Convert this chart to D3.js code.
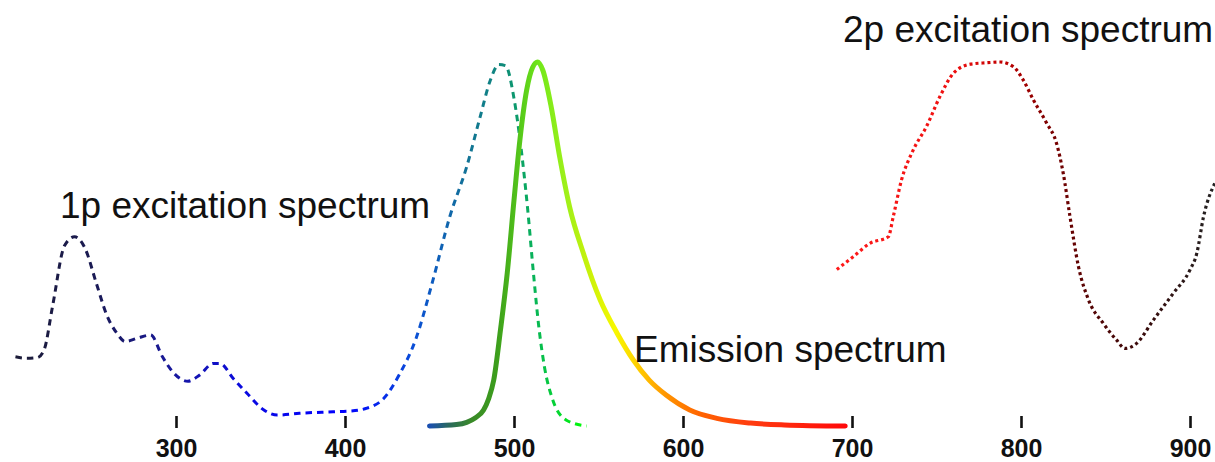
<!DOCTYPE html>
<html>
<head>
<meta charset="utf-8">
<script src="https://cdn.jsdelivr.net/npm/d3@7"></script>
<style>
  body { margin: 0; background: #fff; }
  text { font-family: "Liberation Sans", Arial, sans-serif; }
</style>
</head>
<body>
<div id="chart"></div>
<script>
// wavelengths (nm) and normalised intensity
var exc1P_nm = [205, 212, 218, 222, 227, 234, 240, 246, 253, 259, 265, 270, 277, 285, 292, 298, 307, 314, 322, 326, 334, 342, 352, 360, 373, 393, 403, 413, 423, 432, 442, 452, 462, 472, 480, 486, 491, 495, 500, 504, 508, 511.5, 514.5, 518, 523, 531, 543];
var exc1P_val = [0.19, 0.186, 0.188, 0.21, 0.33, 0.495, 0.52, 0.49, 0.39, 0.305, 0.255, 0.232, 0.241, 0.25, 0.19, 0.149, 0.123, 0.14, 0.172, 0.172, 0.13, 0.09, 0.044, 0.03, 0.035, 0.039, 0.041, 0.049, 0.076, 0.14, 0.24, 0.40, 0.575, 0.712, 0.85, 0.95, 0.993, 0.99, 0.9, 0.77, 0.6, 0.42, 0.28, 0.163, 0.071, 0.016, 0.0];

var emis_nm = [450, 466, 472, 477, 482, 485, 488, 492, 496, 500, 503.5, 507.5, 511, 514, 517, 522, 527, 533, 541, 551, 561, 570.5, 580, 590, 604, 620, 640, 660, 696];
var emis_val = [0, 0.004, 0.01, 0.022, 0.044, 0.075, 0.126, 0.264, 0.42, 0.62, 0.786, 0.923, 0.985, 1.0, 0.978, 0.877, 0.74, 0.6, 0.475, 0.346, 0.255, 0.182, 0.126, 0.085, 0.044, 0.021, 0.008, 0.003, 0.0];

var exc2P_nm = [691, 700.7, 710.7, 721.5, 724.4, 729.3, 736.2, 744, 752, 760, 770, 780, 787.6, 795.5, 801.4, 807.3, 815.2, 821, 825, 829, 834, 840, 848.7, 856.6, 861.5, 868.4, 878.3, 890, 900, 904, 908, 915];
var exc2P_val = [0.43, 0.465, 0.502, 0.52, 0.575, 0.676, 0.758, 0.822, 0.905, 0.969, 0.994, 0.998, 1.0, 0.987, 0.95, 0.896, 0.832, 0.777, 0.694, 0.575, 0.438, 0.346, 0.282, 0.236, 0.213, 0.227, 0.291, 0.364, 0.429, 0.474, 0.575, 0.67];

var tickValues = [300, 400, 500, 600, 700, 800, 900];
var labels = ["1p excitation spectrum", "Emission spectrum", "2p excitation spectrum"];

// colour stops along wavelength for each curve
var exc1P_colors = [[205, "#1c1c38"], [250, "#1a1a52"], [300, "#1818a0"], [340, "#0a0ae0"], [400, "#0000ff"], [440, "#0a4ed8"], [470, "#12709a"], [495, "#0f8c78"], [512, "#08b458"], [543, "#00ff00"]];
var emis_colors = [[450, "#1a4fb0"], [462, "#2a6a5a"], [475, "#3a8a28"], [490, "#3c9e1c"], [505, "#58cc1a"], [515, "#72e81a"], [530, "#9cf01a"], [545, "#caf20a"], [560, "#f8f800"], [575, "#ffc800"], [590, "#ff9400"], [610, "#ff6400"], [640, "#ff3c10"], [696, "#ff0a0a"]];
var exc2P_colors = [[690, "#ff1a1a"], [760, "#ee1010"], [790, "#c00000"], [815, "#800000"], [840, "#560404"], [870, "#3a0a0a"], [915, "#222222"]];

var width = 1215;
var height = 462;

var xScale = d3.scaleLinear().domain([300, 900]).range([176, 1190]);
var yScale = d3.scaleLinear().domain([0, 1]).range([426, 62]);

var svg = d3.select("#chart")
  .append("svg")
  .attr("width", width)
  .attr("height", height)
  .style("background", "#fff");

var defs = svg.append("defs");

function addGradient(id, stops) {
  var x1 = xScale(stops[0][0]);
  var x2 = xScale(stops[stops.length - 1][0]);
  var grad = defs.append("linearGradient")
    .attr("id", id)
    .attr("gradientUnits", "userSpaceOnUse")
    .attr("x1", x1).attr("y1", 0)
    .attr("x2", x2).attr("y2", 0);
  grad.selectAll("stop").data(stops).enter().append("stop")
    .attr("offset", function(d) { return (xScale(d[0]) - x1) / (x2 - x1); })
    .attr("stop-color", function(d) { return d[1]; });
}

addGradient("g1p", exc1P_colors);
addGradient("gem", emis_colors);
addGradient("g2p", exc2P_colors);

var line = d3.line()
  .x(function(d) { return xScale(d[0]); })
  .y(function(d) { return yScale(d[1]); })
  .curve(d3.curveMonotoneX);

function zip(a, b) {
  return a.map(function(v, i) { return [v, b[i]]; });
}

// axis: ticks and bold labels only
var axis = svg.append("g")
  .attr("transform", "translate(0,416)")
  .call(d3.axisBottom(xScale).tickValues(tickValues).tickSize(12).tickPadding(11).tickFormat(d3.format("d")));
axis.select(".domain").remove();
axis.selectAll(".tick line").attr("stroke", "#111").attr("stroke-width", 2.6);
axis.selectAll(".tick text")
  .attr("fill", "#111")
  .style("font-size", "25px")
  .style("font-weight", "bold")
  .style("font-family", "'Liberation Sans', Arial, sans-serif");

// 1p excitation (dashed)
svg.append("path")
  .datum(zip(exc1P_nm, exc1P_val))
  .attr("d", line)
  .attr("fill", "none")
  .attr("stroke", "url(#g1p)")
  .attr("stroke-width", 3)
  .attr("stroke-dasharray", "6.5,5");

// emission (solid)
svg.append("path")
  .datum(zip(emis_nm, emis_val))
  .attr("d", line)
  .attr("fill", "none")
  .attr("stroke", "url(#gem)")
  .attr("stroke-width", 5)
  .attr("stroke-linecap", "round")
  .attr("stroke-linejoin", "round");

// 2p excitation (dotted)
svg.append("path")
  .datum(zip(exc2P_nm, exc2P_val))
  .attr("d", line)
  .attr("fill", "none")
  .attr("stroke", "url(#g2p)")
  .attr("stroke-width", 3.2)
  .attr("stroke-dasharray", "3,3");

// text labels
var labelPos = [[60, 218], [634, 362], [843, 42]];
svg.selectAll(".label").data(labels).enter().append("text")
  .attr("class", "label")
  .attr("x", function(d, i) { return labelPos[i][0]; })
  .attr("y", function(d, i) { return labelPos[i][1]; })
  .attr("fill", "#111")
  .style("font-size", "37px")
  .text(function(d) { return d; });
</script>
</body>
</html>
